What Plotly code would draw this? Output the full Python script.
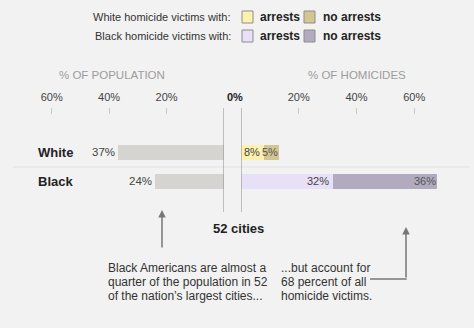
import plotly.graph_objects as go

# ---- data ----
groups = ["White", "Black"]
population_pct = [37, 24]
homicide_arrests_pct = [8, 32]
homicide_no_arrests_pct = [5, 36]
tick_values = [20, 40, 60]
tick_labels = ["20%", "40%", "60%"]

pop_color = "#d6d4d0"
arrest_colors = ["#fcf2ae", "#e7e0f7"]
no_arrest_colors = ["#d4c692", "#b2abc0"]
legend_rows = ["White homicide victims with:", "Black homicide victims with:"]

W, H = 474, 328
FONT = "Liberation Sans, Arial, sans-serif"


def px(x):
    return x / W


def py(y):
    return 1 - y / H


fig = go.Figure()

fig.add_trace(go.Bar(
    y=groups, x=population_pct, orientation="h", xaxis="x", yaxis="y",
    marker=dict(color=pop_color, line=dict(width=0)), width=0.52,
    hoverinfo="skip", showlegend=False,
))
fig.add_trace(go.Bar(
    y=groups, x=homicide_arrests_pct, orientation="h", xaxis="x2", yaxis="y",
    marker=dict(color=arrest_colors, line=dict(width=0)), width=0.52,
    hoverinfo="skip", showlegend=False,
))
fig.add_trace(go.Bar(
    y=groups, x=homicide_no_arrests_pct, orientation="h", xaxis="x2", yaxis="y",
    marker=dict(color=no_arrest_colors, line=dict(width=0)), width=0.52,
    hoverinfo="skip", showlegend=False,
))

axis_common = dict(
    side="top", ticks="inside", ticklen=6, tickwidth=1, tickcolor="#c8c8c8",
    tickvals=tick_values, ticktext=tick_labels, showgrid=False, zeroline=False,
    showline=False, anchor="y", fixedrange=True, ticklabelstandoff=4,
    tickfont=dict(family=FONT, size=11, color="#444"),
)

annotations = []
shapes = []


def note(x, y, text, size, color, xanchor="center", bold=False):
    annotations.append(dict(
        x=px(x), y=py(y), xref="paper", yref="paper",
        text=f"<b>{text}</b>" if bold else text, showarrow=False,
        xanchor=xanchor, yanchor="middle",
        font=dict(family=FONT, size=size, color=color)))


# value labels
for g, v in zip(groups, population_pct):
    annotations.append(dict(x=v, y=g, xref="x", yref="y", text=f"{v}%",
                            showarrow=False, xanchor="right", yanchor="middle", xshift=-1,
                            font=dict(family=FONT, size=11.5, color="#444")))
for g, a, n in zip(groups, homicide_arrests_pct, homicide_no_arrests_pct):
    annotations.append(dict(x=a, y=g, xref="x2", yref="y", text=f"{a}%",
                            showarrow=False, xanchor="right", yanchor="middle", xshift=-2,
                            font=dict(family=FONT, size=11, color="#444")))
    annotations.append(dict(x=a + n, y=g, xref="x2", yref="y", text=f"{n}%",
                            showarrow=False, xanchor="right", yanchor="middle", xshift=1,
                            font=dict(family=FONT, size=11, color="#555")))

# row labels
for g in groups:
    annotations.append(dict(x=px(36), y=g, xref="paper", yref="y", text=f"<b>{g}</b>",
                            showarrow=False, xanchor="left", yanchor="middle",
                            font=dict(family=FONT, size=13, color="#222")))

# row separator
shapes.append(dict(type="line", xref="paper", yref="y", x0=px(13), x1=px(470),
                   y0=0.5, y1=0.5, line=dict(color="#e2e2e2", width=1)))

# zero lines
for xr in ["x", "x2"]:
    shapes.append(dict(type="line", xref=xr, yref="paper", x0=0, x1=0,
                       y0=py(212), y1=py(108), line=dict(color="#8a8a8a", width=1)))

# axis titles and 0%
note(112, 75, "% OF POPULATION", 11.5, "#9c9c9c")
note(357, 75, "% OF HOMICIDES", 11.5, "#9c9c9c")
note(235, 97, "0%", 11, "#222", bold=True)

# legend
for i, label in enumerate(legend_rows):
    yc = 17 + 19 * i
    note(233, yc, label, 11, "#333", xanchor="right")
    shapes.append(dict(type="rect", xref="paper", yref="paper",
                       x0=px(242), x1=px(253), y0=py(yc + 6), y1=py(yc - 6),
                       fillcolor=arrest_colors[i], line=dict(color="#8c8c8c", width=1)))
    note(258, yc, "arrests", 12, "#222", xanchor="left", bold=True)
    shapes.append(dict(type="rect", xref="paper", yref="paper",
                       x0=px(304), x1=px(315), y0=py(yc + 6), y1=py(yc - 6),
                       fillcolor=no_arrest_colors[i], line=dict(color="#8c8c8c", width=1)))
    note(321, yc, "no arrests", 12, "#222", xanchor="left", bold=True)

# 52 cities
note(238, 229, "52 cities", 13, "#222", bold=True)

# arrows
annotations.append(dict(x=px(162), y=py(210), xref="paper", yref="paper",
                        ax=0, ay=39, axref="pixel", ayref="pixel",
                        text="", showarrow=True, arrowhead=2, arrowsize=1,
                        arrowwidth=1.5, arrowcolor="#777"))
annotations.append(dict(x=px(406), y=py(227), xref="paper", yref="paper",
                        ax=0, ay=52, axref="pixel", ayref="pixel",
                        text="", showarrow=True, arrowhead=2, arrowsize=1,
                        arrowwidth=1.5, arrowcolor="#777"))
shapes.append(dict(type="line", xref="paper", yref="paper", x0=px(370), x1=px(406.7),
                   y0=py(279), y1=py(279), line=dict(color="#777", width=1.5)))

# notes
left_note = ["Black Americans are almost a", "quarter of the population in 52",
             "of the nation’s largest cities..."]
right_note = ["...but account for", "68 percent of all", "homicide victims."]
for i, line in enumerate(left_note):
    note(106, 268 + 14 * i, line, 12, "#333", xanchor="left")
for i, line in enumerate(right_note):
    note(279, 268 + 14 * i, line, 12, "#333", xanchor="left")

fig.update_layout(
    width=W, height=H, margin=dict(l=0, r=0, t=0, b=0),
    paper_bgcolor="#f2f2f2", plot_bgcolor="rgba(0,0,0,0)",
    barmode="stack", bargap=0, showlegend=False,
    xaxis=dict(domain=[0, px(224)], range=[78, 0], **axis_common),
    xaxis2=dict(domain=[px(241), 1], range=[0, 80.7], **axis_common),
    yaxis=dict(domain=[py(212), py(108)], range=[2.052, -1.534], type="category",
               categoryorder="array", categoryarray=groups,
               showticklabels=False, ticks="", showgrid=False, zeroline=False,
               showline=False, fixedrange=True),
    annotations=annotations, shapes=shapes,
    font=dict(family=FONT),
)

fig.write_html("out.html", config={"displayModeBar": False})
